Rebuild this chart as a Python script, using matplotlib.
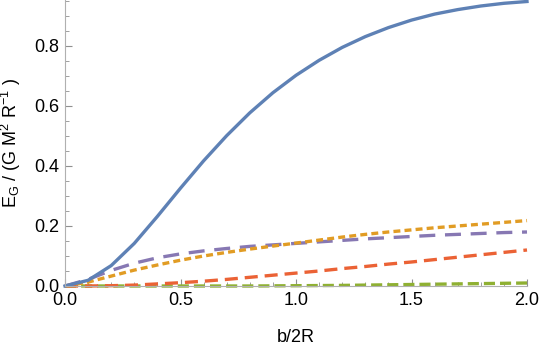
import numpy as np
import matplotlib.pyplot as plt

plt.rcParams['font.family'] = ['Liberation Sans', 'DejaVu Sans']
plt.rcParams['mathtext.fontset'] = 'custom'
plt.rcParams['mathtext.rm'] = 'Liberation Sans'
plt.rcParams['lines.scale_dashes'] = False

# b/2R grid
b = [0.0, 0.1, 0.2, 0.3, 0.4, 0.5, 0.6, 0.7, 0.8, 0.9, 1.0,
     1.1, 1.2, 1.3, 1.4, 1.5, 1.6, 1.7, 1.8, 1.9, 2.0]

blue = [0.0, 0.019, 0.068, 0.142, 0.232, 0.326, 0.417, 0.501, 0.577, 0.644, 0.702,
        0.752, 0.795, 0.831, 0.861, 0.886, 0.906, 0.921, 0.933, 0.942, 0.948]
orange = [0.0, 0.013, 0.033, 0.053, 0.070, 0.086, 0.100, 0.112, 0.123, 0.133, 0.143,
          0.153, 0.163, 0.172, 0.180, 0.187, 0.194, 0.200, 0.206, 0.212, 0.218]
purple = [0.0, 0.022, 0.052, 0.076, 0.094, 0.107, 0.117, 0.125, 0.132, 0.137, 0.142,
          0.147, 0.152, 0.157, 0.161, 0.165, 0.169, 0.172, 0.175, 0.178, 0.180]
red = [0.0, 0.0, 0.001, 0.003, 0.007, 0.011, 0.016, 0.022, 0.029, 0.036, 0.043,
       0.050, 0.058, 0.065, 0.073, 0.080, 0.088, 0.096, 0.104, 0.112, 0.120]
green = [0.0, 0.0, 0.0, 0.0, 0.0, 0.0, 0.0, 0.0, 0.0, 0.0005, 0.001,
         0.0015, 0.002, 0.003, 0.004, 0.005, 0.006, 0.007, 0.008, 0.009, 0.010]

fig = plt.figure(figsize=(5.4, 3.46), dpi=100)
ax = fig.add_axes([65/540, 1-286/346, 462/540, 286/346])

lw = 2.4
ax.plot(b, green, color='#8FB032', lw=lw, dashes=(8, 3.6), clip_on=False)
ax.plot(b, red, color='#EB6235', lw=lw, dashes=(9.4, 5), clip_on=False)
ax.plot(b, purple, color='#8778B3', lw=lw, dashes=(11.5, 7), clip_on=False)
ax.plot(b, orange, color='#E19C24', lw=lw, dashes=(5, 3), clip_on=False)
ax.plot(b, blue, color='#5E81B5', lw=lw, clip_on=False)

ax.set_xlim(0, 2)
ax.set_ylim(0, 0.953)

ax.set_xticks([0, 0.5, 1.0, 1.5, 2.0])
ax.set_xticks(np.arange(0, 2.01, 0.1), minor=True)
ax.set_yticks([0, 0.2, 0.4, 0.6, 0.8])
ax.set_yticks(np.arange(0, 0.951, 0.05), minor=True)
ax.xaxis.set_major_formatter(plt.FormatStrFormatter('%.1f'))
ax.yaxis.set_major_formatter(plt.FormatStrFormatter('%.1f'))

for s in ['top', 'right']:
    ax.spines[s].set_visible(False)
for s in ['left', 'bottom']:
    ax.spines[s].set_color('#b0b0b0')
    ax.spines[s].set_linewidth(0.8)

ax.tick_params(which='both', direction='in', color='#909090', labelsize=13, pad=4)
ax.tick_params(which='major', length=5, width=0.8)
ax.tick_params(which='minor', length=3, width=0.6)

ax.set_xlabel('b/2R', fontsize=13)
ax.set_ylabel(r'E$_\mathregular{G}$ / (G M$^\mathregular{2}$ R$^\mathregular{-1}$ )', fontsize=13)
ax.xaxis.set_label_coords(0.5, -0.15)
ax.yaxis.set_label_coords(-0.09, 0.5)

fig.savefig('out.png', dpi=100)
